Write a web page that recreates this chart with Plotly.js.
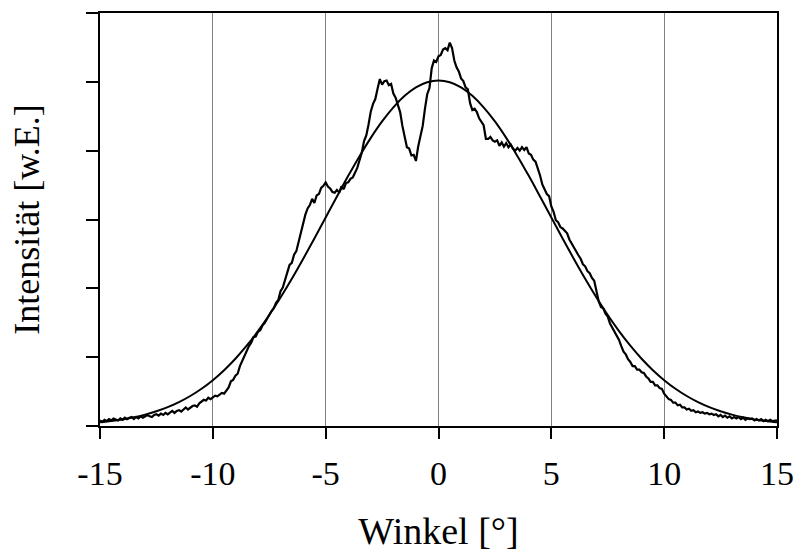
<!DOCTYPE html>
<html>
<head>
<meta charset="utf-8">
<script src="https://cdn.plot.ly/plotly-3.0.1.min.js"></script>
<style>html,body{margin:0;padding:0;background:#fff;}#chart{width:801px;height:552px;}</style>
</head>
<body>
<div id="chart"></div>
<script>
// Measured intensity, sampled from -15° to 15° in steps of 0.1°
var measStart = -15;
var measStep = 0.1;
var measured = [
  0.08, 0.06, 0.09, 0.07, 0.10, 0.08, 0.11, 0.09, 0.08, 0.11,
  0.09, 0.12, 0.10, 0.12, 0.13, 0.10, 0.13, 0.11, 0.14, 0.12,
  0.14, 0.16, 0.14, 0.13, 0.16, 0.17, 0.15, 0.18, 0.16, 0.19,
  0.17, 0.20, 0.22, 0.19, 0.22, 0.23, 0.21, 0.24, 0.27, 0.24,
  0.27, 0.29, 0.30, 0.28, 0.33, 0.35, 0.38, 0.37, 0.41, 0.39,
  0.42, 0.44, 0.43, 0.46, 0.48, 0.47, 0.52, 0.56, 0.65, 0.67,
  0.73, 0.76, 0.87, 0.94, 1.03, 1.08, 1.16, 1.21, 1.29, 1.30,
  1.37, 1.39, 1.46, 1.50, 1.56, 1.61, 1.67, 1.71, 1.79, 1.83,
  1.96, 2.01, 2.12, 2.20, 2.34, 2.37, 2.49, 2.54, 2.68, 2.79,
  2.97, 3.07, 3.16, 3.21, 3.30, 3.24, 3.35, 3.37, 3.46, 3.49,
  3.54, 3.48, 3.45, 3.40, 3.39, 3.43, 3.39, 3.48, 3.44, 3.53,
  3.54, 3.59, 3.61, 3.69, 3.75, 3.86, 3.97, 4.14, 4.22, 4.38,
  4.57, 4.68, 4.75, 4.90, 5.04, 4.96, 5.01, 5.02, 4.95, 4.97,
  4.83, 4.77, 4.66, 4.56, 4.36, 4.21, 4.05, 4.03, 3.93, 3.94,
  3.85, 4.06, 4.19, 4.36, 4.61, 4.82, 4.91, 5.20, 5.31, 5.29,
  5.37, 5.39, 5.47, 5.49, 5.46, 5.57, 5.49, 5.31, 5.21, 5.15,
  5.05, 5.01, 4.92, 4.89, 4.69, 4.59, 4.61, 4.56, 4.47, 4.41,
  4.37, 4.17, 4.17, 4.20, 4.15, 4.13, 4.15, 4.07, 4.12, 4.06,
  4.11, 4.05, 4.09, 4.03, 4.00, 4.04, 4.00, 4.05, 4.01, 4.05,
  3.96, 3.94, 3.87, 3.84, 3.75, 3.64, 3.51, 3.43, 3.37, 3.34,
  3.19, 3.11, 2.99, 2.96, 2.89, 2.87, 2.83, 2.80, 2.71, 2.65,
  2.58, 2.54, 2.48, 2.43, 2.35, 2.32, 2.25, 2.22, 2.15, 2.11,
  1.95, 1.81, 1.73, 1.71, 1.63, 1.59, 1.49, 1.43, 1.36, 1.32,
  1.25, 1.16, 1.08, 1.04, 0.97, 0.93, 0.87, 0.87, 0.82, 0.82,
  0.78, 0.77, 0.72, 0.69, 0.64, 0.64, 0.59, 0.59, 0.55, 0.54,
  0.47, 0.43, 0.39, 0.38, 0.34, 0.34, 0.30, 0.31, 0.27, 0.27,
  0.24, 0.25, 0.22, 0.23, 0.20, 0.21, 0.19, 0.20, 0.18, 0.19,
  0.17, 0.18, 0.16, 0.17, 0.14, 0.16, 0.13, 0.15, 0.12, 0.14,
  0.11, 0.13, 0.11, 0.13, 0.10, 0.12, 0.09, 0.11, 0.10, 0.11,
  0.08, 0.10, 0.08, 0.10, 0.07, 0.09, 0.07, 0.09, 0.07, 0.08,
  0.08
];

// Fitted curve, read at every 0.5° from -15° to 15°
var fitStart = -15;
var fitStep = 0.5;
var fitted = [
  0.053, 0.072, 0.096, 0.126, 0.165, 0.214, 0.274, 0.347, 0.436, 0.541,
  0.666, 0.811, 0.977, 1.166, 1.378, 1.612, 1.866, 2.138, 2.426, 2.725,
  3.030, 3.334, 3.634, 3.920, 4.186, 4.425, 4.630, 4.797, 4.920, 4.995,
  5.020,
  4.995, 4.920, 4.797, 4.630, 4.425, 4.186, 3.920, 3.634, 3.334, 3.030,
  2.725, 2.426, 2.138, 1.866, 1.612, 1.378, 1.166, 0.977, 0.811, 0.666,
  0.541, 0.436, 0.347, 0.274, 0.214, 0.165, 0.126, 0.096, 0.072, 0.053
];

var xTicks = [-15, -10, -5, 0, 5, 10, 15];
var xTickLabels = ['-15', '-10', '-5', '0', '5', '10', '15'];
var yTicks = [0, 1, 2, 3, 4, 5, 6];

var serif = 'Liberation Serif, Times New Roman, serif';

var traces = [
  {
    type: 'scatter', mode: 'lines', name: 'Messung',
    x0: measStart, dx: measStep, y: measured,
    line: {color: '#000', width: 2.2},
    hoverinfo: 'x+y'
  },
  {
    type: 'scatter', mode: 'lines', name: 'Fit',
    x0: fitStart, dx: fitStep, y: fitted,
    line: {color: '#000', width: 2, shape: 'spline'},
    hoverinfo: 'x+y'
  }
];

var layout = {
  width: 801, height: 552,
  margin: {l: 100, r: 24, t: 13, b: 126, pad: 0},
  paper_bgcolor: '#fff', plot_bgcolor: '#fff',
  showlegend: false,
  font: {family: serif, color: '#000'},
  xaxis: {
    range: [-15, 15],
    tickmode: 'array', tickvals: xTicks, ticktext: xTickLabels,
    ticks: 'outside', ticklen: 11, tickwidth: 2, tickcolor: '#000',
    ticklabelstandoff: 5,
    showline: true, linewidth: 2, linecolor: '#000', mirror: true,
    showgrid: true, gridcolor: '#808080', gridwidth: 1,
    zeroline: false,
    tickfont: {family: serif, size: 34, color: '#000'},
    title: {text: 'Winkel [°]', font: {family: serif, size: 38, color: '#000'}, standoff: 32}
  },
  yaxis: {
    range: [0, 6],
    tickmode: 'array', tickvals: yTicks,
    ticks: 'outside', ticklen: 12, tickwidth: 2, tickcolor: '#000',
    showticklabels: false,
    showline: true, linewidth: 2, linecolor: '#000', mirror: true,
    showgrid: false, zeroline: false,
    title: {text: 'Intensität [w.E.]', font: {family: serif, size: 36, color: '#000'}, standoff: 35}
  }
};

Plotly.newPlot('chart', traces, layout, {displayModeBar: false});
</script>
</body>
</html>
